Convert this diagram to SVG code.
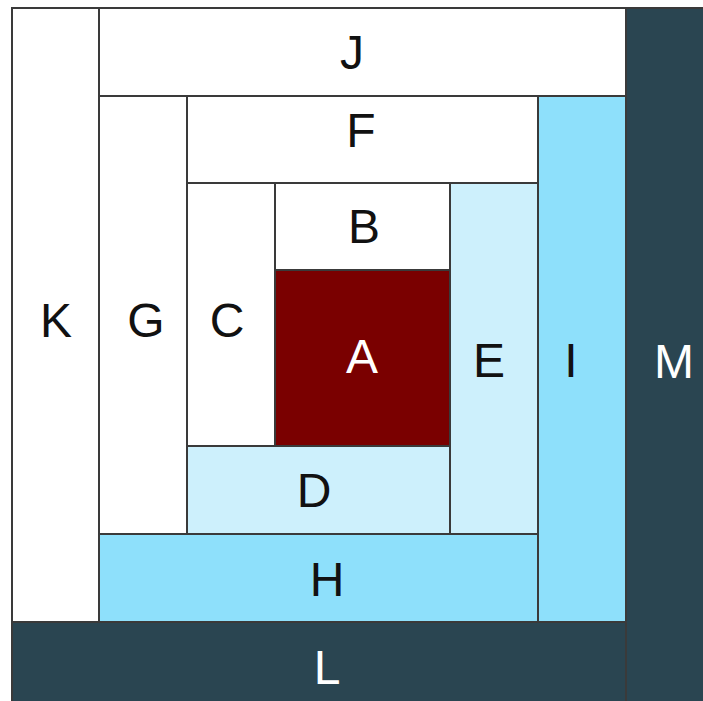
<svg xmlns="http://www.w3.org/2000/svg" width="703" height="701" viewBox="0 0 703 701">
<style>
rect{stroke:#3a3a3a;stroke-width:2}
.w{fill:#ffffff}
.p{fill:#cdf0fc}
.l{fill:#8ee0fb}
.d{fill:#2a4551}
.r{fill:#7a0000}
text{font-family:"Liberation Sans",Arial,sans-serif;font-size:48px;text-anchor:middle;fill:#111}
.t{fill:#ffffff}
</style>
<rect x="0" y="0" width="703" height="701" fill="#ffffff" style="stroke:none"/>
<g id="M"><rect class="d" x="626" y="8" width="80" height="697"/><text class="t" x="674" y="378">M</text></g>
<g id="L"><rect class="d" x="12" y="622" width="614" height="83"/><text class="t" x="327" y="684">L</text></g>
<g id="K"><rect class="w" x="12" y="8" width="87" height="614"/><text x="56" y="337">K</text></g>
<g id="J"><rect class="w" x="99" y="8" width="527" height="88"/><text x="352" y="69">J</text></g>
<g id="I"><rect class="l" x="538" y="96" width="88" height="526"/><text x="571" y="377">I</text></g>
<g id="H"><rect class="l" x="99" y="534" width="439" height="88"/><text x="327" y="596">H</text></g>
<g id="G"><rect class="w" x="99" y="96" width="88" height="438"/><text x="146" y="337">G</text></g>
<g id="F"><rect class="w" x="187" y="96" width="351" height="87"/><text x="361" y="147">F</text></g>
<g id="E"><rect class="p" x="450" y="183" width="88" height="351"/><text x="489" y="377">E</text></g>
<g id="D"><rect class="p" x="187" y="446" width="263" height="88"/><text x="314" y="507">D</text></g>
<g id="C"><rect class="w" x="187" y="183" width="88" height="263"/><text x="227" y="337">C</text></g>
<g id="B"><rect class="w" x="275" y="183" width="175" height="87"/><text x="364" y="243">B</text></g>
<g id="A"><rect class="r" x="275" y="270" width="175" height="176"/><text class="t" x="362" y="373">A</text></g>
<g id="connectors"></g>
</svg>
